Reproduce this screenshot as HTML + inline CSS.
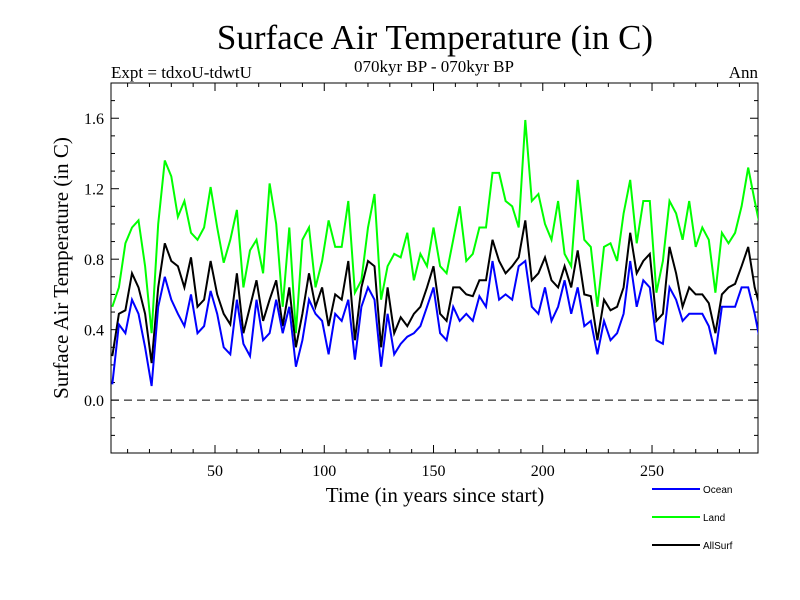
<!DOCTYPE html>
<html><head><meta charset="utf-8"><style>
body{margin:0;background:#fff}
svg{display:block}
text{font-family:"Liberation Serif",serif}
</style></head><body>
<svg id="chart" width="800" height="600">
<text x="435" y="49" font-size="35" text-anchor="middle">Surface Air Temperature (in C)</text>
<text x="111" y="78" font-size="17">Expt = tdxoU-tdwtU</text>
<text x="434" y="72" font-size="17" text-anchor="middle">070kyr BP - 070kyr BP</text>
<text x="758" y="78" font-size="17" text-anchor="end">Ann</text>
<text transform="translate(68,268) rotate(-90)" font-size="21" text-anchor="middle">Surface Air Temperature (in C)</text>
<text x="435" y="502" font-size="21" text-anchor="middle">Time (in years since start)</text>
<g id="plot"></g>
<g id="legend"></g>
</svg>
<script>
const years=[];for(let i=1;i<=100;i++)years.push(i*3);
const ocean=[0.09,0.43,0.38,0.57,0.49,0.30,0.08,0.53,0.70,0.57,0.49,0.42,0.60,0.38,0.42,0.62,0.49,0.30,0.26,0.57,0.32,0.25,0.57,0.34,0.38,0.57,0.38,0.53,0.19,0.34,0.57,0.49,0.45,0.26,0.49,0.45,0.57,0.23,0.53,0.64,0.57,0.19,0.49,0.26,0.32,0.36,0.38,0.42,0.53,0.64,0.38,0.34,0.53,0.45,0.49,0.45,0.59,0.53,0.79,0.57,0.60,0.57,0.76,0.79,0.53,0.49,0.64,0.45,0.53,0.68,0.49,0.64,0.42,0.45,0.26,0.45,0.34,0.38,0.49,0.79,0.53,0.68,0.64,0.34,0.32,0.64,0.57,0.45,0.49,0.49,0.49,0.42,0.26,0.53,0.53,0.53,0.64,0.64,0.49,0.30];
const land=[0.53,0.64,0.89,0.98,1.02,0.76,0.38,1.00,1.36,1.27,1.04,1.13,0.95,0.91,0.98,1.21,0.98,0.78,0.91,1.08,0.64,0.85,0.91,0.72,1.23,1.00,0.53,0.98,0.38,0.91,0.98,0.64,0.79,1.02,0.87,0.87,1.13,0.61,0.68,0.98,1.17,0.57,0.76,0.83,0.81,0.95,0.68,0.83,0.76,0.98,0.76,0.72,0.91,1.10,0.79,0.83,0.98,0.98,1.29,1.29,1.13,1.10,0.98,1.59,1.13,1.17,1.00,0.91,1.13,0.83,0.76,1.25,0.91,0.87,0.53,0.87,0.89,0.79,1.06,1.25,0.89,1.13,1.13,0.61,0.79,1.13,1.06,0.91,1.13,0.87,0.98,0.91,0.61,0.95,0.89,0.95,1.10,1.32,1.13,0.95];
const allsurf=[0.25,0.49,0.51,0.72,0.64,0.49,0.21,0.64,0.89,0.79,0.76,0.64,0.81,0.53,0.57,0.79,0.60,0.49,0.43,0.72,0.38,0.53,0.68,0.45,0.57,0.68,0.42,0.64,0.30,0.49,0.72,0.53,0.64,0.42,0.60,0.57,0.79,0.34,0.64,0.79,0.76,0.30,0.64,0.38,0.47,0.42,0.49,0.53,0.64,0.76,0.49,0.45,0.64,0.64,0.60,0.59,0.68,0.68,0.91,0.79,0.72,0.76,0.81,1.02,0.68,0.72,0.81,0.68,0.64,0.76,0.64,0.85,0.60,0.59,0.34,0.57,0.51,0.53,0.64,0.95,0.72,0.79,0.83,0.45,0.49,0.87,0.72,0.53,0.64,0.60,0.60,0.55,0.38,0.60,0.64,0.66,0.76,0.87,0.64,0.50];
const xTicks=[50,100,150,200,250];
const yTicks=[0.0,0.4,0.8,1.2,1.6];
const NS='http://www.w3.org/2000/svg';
const L=111,R=758,T=83,B=453;
const X0=2.4,X1=298.5,Y0=-0.3,Y1=1.8;
const sx=v=>L+(v-X0)/(X1-X0)*(R-L);
const sy=v=>B-(v-Y0)/(Y1-Y0)*(B-T);
const plot=document.getElementById('plot');
function mk(t,a,p){const e=document.createElementNS(NS,t);for(const k in a)e.setAttribute(k,a[k]);(p||plot).appendChild(e);return e;}
const clip=mk('clipPath',{id:'cp'});mk('rect',{x:L,y:T,width:R-L,height:B-T},clip);
const frame=mk('rect',{x:L,y:T,width:R-L,height:B-T,fill:'none',stroke:'#000','stroke-width':1});


const zl=mk('line',{x1:L,x2:R,y1:sy(0),y2:sy(0),stroke:'#000','stroke-dasharray':'8,5'});


for(let v=10;v<X1;v+=10){const len=v%50===0?8:4;
 mk('line',{x1:sx(v),x2:sx(v),y1:B,y2:B-len,stroke:'#000'});
 mk('line',{x1:sx(v),x2:sx(v),y1:T,y2:T+len,stroke:'#000'});}
for(let i=-3;i<=18;i++){const v=i/10;const len=i%4===0?8:4;
 mk('line',{x1:L,x2:L+len,y1:sy(v),y2:sy(v),stroke:'#000'});
 mk('line',{x1:R,x2:R-len,y1:sy(v),y2:sy(v),stroke:'#000'});}
xTicks.forEach(v=>{const t=mk('text',{x:sx(v),y:476,'font-size':16,'text-anchor':'middle'});t.textContent=v;
 
 });
yTicks.forEach(v=>{const t=mk('text',{x:104,y:sy(v)+6,'font-size':16,'text-anchor':'end'});t.textContent=v.toFixed(1);
 
 });
function series(vals,col,name){const d=vals.map((v,i)=>(i?'L':'M')+sx(years[i]).toFixed(1)+','+sy(v).toFixed(1)).join('');
 const p=mk('path',{d:d,fill:'none',stroke:col,'stroke-width':2,'clip-path':'url(#cp)'});
 
 }
series(land,'#00ff00','land-line');
series(allsurf,'#000000','allsurf-line');
series(ocean,'#0000ff','ocean-line');
const lg=document.getElementById('legend');
[['Ocean','#0000ff',489],['Land','#00ff00',517],['AllSurf','#000000',545]].forEach(e=>{
 const ln=mk('line',{x1:652,x2:700,y1:e[2],y2:e[2],stroke:e[1],'stroke-width':2},lg);
 
 
 const t=mk('text',{x:703,y:e[2]+4,'font-size':10,style:'font-family:"Liberation Sans",sans-serif'},lg);t.textContent=e[0];
 
 });
</script>
</body></html>
